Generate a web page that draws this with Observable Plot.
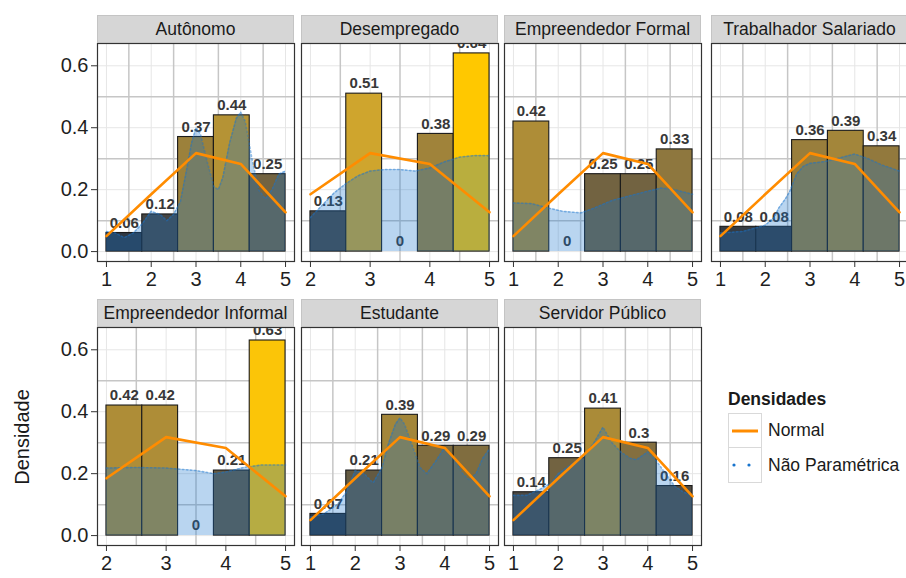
<!DOCTYPE html>
<html>
<head>
<meta charset="utf-8">
<script src="https://cdn.jsdelivr.net/npm/d3@7"></script>
<script src="https://cdn.jsdelivr.net/npm/@observablehq/plot@0.6"></script>
<style>
  body { margin: 0; background: #fff; font-family: "Liberation Sans", Arial, sans-serif; }
  #chart { position: relative; width: 906px; height: 578px; overflow: hidden; background: #fff; }
  .strip { position: absolute; height: 28px; background: #d6d6d6; border: 1px solid #c4c4c4; box-sizing: border-box;
           text-align: center; font-size: 17.5px; line-height: 26px; color: #1a1a1a; white-space: nowrap; overflow: hidden; z-index: 2; }
  .panel { position: absolute; z-index: 1; }
  .ytitle { position: absolute; left: 22px; top: 437px; transform: translate(-50%, -50%) rotate(-90deg);
            font-size: 20px; color: #1a1a1a; white-space: nowrap; }
  .legend { position: absolute; left: 728px; top: 386px; color: #1a1a1a; }
  .legend .ttl { font-weight: bold; font-size: 17.5px; height: 27px; line-height: 26px; }
  .legend .row { display: flex; align-items: center; height: 35px; }
  .legend .key { width: 34px; height: 35px; box-sizing: border-box; border: 1px solid #d9d9d9; background: #fff; }
  .legend .row + .row .key { border-top: none; }
  .legend .lab { font-size: 17.5px; margin-left: 6px; white-space: nowrap; }
</style>
</head>
<body>
<div id="chart"></div>
<script>
// Facet groups and the range of answers observed in each one
const grupos = ["Autônomo", "Desempregado", "Empreendedor Formal", "Trabalhador Salariado",
                "Empreendedor Informal", "Estudante", "Servidor Público"];
const faixaMin = [1, 2, 1, 1, 2, 1, 1];
const faixaMax = [5, 5, 5, 5, 5, 5, 5];

// Histogram densities (5 bins per group)
const densAutonomo     = [0.06, 0.12, 0.37, 0.44, 0.25];
const densDesempregado = [0.13, 0.51, 0, 0.38, 0.64];
const densEmpFormal    = [0.42, 0, 0.25, 0.25, 0.33];
const densTrabalhador  = [0.08, 0.08, 0.36, 0.39, 0.34];
const densEmpInformal  = [0.42, 0.42, 0, 0.21, 0.63];
const densEstudante    = [0.07, 0.21, 0.39, 0.29, 0.29];
const densServidor     = [0.14, 0.25, 0.41, 0.3, 0.16];

// Normal density evaluated at the answer values
const normalX = [1, 2, 3, 4, 5];
const normalY = [0.05, 0.185, 0.318, 0.283, 0.127];

// Kernel (non-parametric) density estimates
const kdeAutonomoX = [1.0,1.2,1.4,1.6,1.8,2.0,2.2,2.35,2.5,2.65,2.8,2.9,3.0,3.1,3.25,3.4,3.5,3.6,3.75,3.9,4.0,4.1,4.25,4.4,4.55,4.7,4.85,5.0];
const kdeAutonomoY = [0.065,0.06,0.045,0.06,0.09,0.13,0.12,0.10,0.12,0.16,0.27,0.35,0.40,0.38,0.29,0.21,0.20,0.24,0.35,0.43,0.45,0.42,0.30,0.20,0.17,0.20,0.25,0.26];
const kdeDesempregadoX = [2.0,2.2,2.4,2.6,2.8,3.0,3.25,3.5,3.75,4.0,4.25,4.5,4.75,5.0];
const kdeDesempregadoY = [0.11,0.15,0.19,0.22,0.245,0.26,0.265,0.265,0.26,0.27,0.29,0.305,0.31,0.31];
const kdeEmpFormalX = [1.0,1.4,1.8,2.1,2.5,2.8,3.2,3.6,4.0,4.3,4.6,5.0];
const kdeEmpFormalY = [0.157,0.155,0.14,0.13,0.125,0.14,0.165,0.18,0.195,0.205,0.2,0.185];
const kdeTrabalhadorX = [1.0,1.5,2.0,2.2,2.3,2.45,2.55,2.7,2.85,3.0,3.3,3.6,4.0,4.3,4.6,5.0];
const kdeTrabalhadorY = [0.06,0.065,0.085,0.11,0.14,0.17,0.195,0.25,0.275,0.285,0.29,0.30,0.315,0.30,0.28,0.26];
const kdeEmpInformalX = [2.0,2.5,3.0,3.5,3.8,4.0,4.3,4.6,5.0];
const kdeEmpInformalY = [0.218,0.22,0.218,0.21,0.2,0.205,0.22,0.228,0.228];
const kdeEstudanteX = [1.0,1.3,1.6,1.8,2.0,2.2,2.4,2.6,2.75,2.9,3.0,3.1,3.25,3.45,3.6,3.8,4.0,4.2,4.4,4.55,4.7,4.85,5.0];
const kdeEstudanteY = [0.06,0.07,0.10,0.14,0.21,0.20,0.17,0.22,0.30,0.36,0.38,0.36,0.30,0.22,0.20,0.24,0.285,0.25,0.20,0.18,0.20,0.25,0.28];
const kdeServidorX = [1.0,1.3,1.6,1.85,2.0,2.3,2.6,2.8,3.0,3.2,3.4,3.6,3.75,4.0,4.2,4.4,4.6,4.8,5.0];
const kdeServidorY = [0.13,0.13,0.15,0.17,0.2,0.23,0.26,0.3,0.35,0.3,0.27,0.25,0.245,0.27,0.24,0.2,0.16,0.14,0.13];

// Axis breaks
const yMajor = [0, 0.2, 0.4, 0.6];
const yMinor = [0.1, 0.3, 0.5];

const dens = [densAutonomo, densDesempregado, densEmpFormal, densTrabalhador, densEmpInformal, densEstudante, densServidor];
const kdeX = [kdeAutonomoX, kdeDesempregadoX, kdeEmpFormalX, kdeTrabalhadorX, kdeEmpInformalX, kdeEstudanteX, kdeServidorX];
const kdeY = [kdeAutonomoY, kdeDesempregadoY, kdeEmpFormalY, kdeTrabalhadorY, kdeEmpInformalY, kdeEstudanteY, kdeServidorY];

const maxDens = d3.max(dens.flat());
const font = '"Liberation Sans", Arial, sans-serif';

// Facet grid geometry
const colLeft = [97, 301, 504, 711];
const rowTop = [42.5, 327];
const PW = 197, PH = 218;
const ML = 56, MR = 12, MT = 4, MB = 40;

const chart = document.getElementById("chart");

function panel(i) {
  const lo = faixaMin[i], hi = faixaMax[i], w = (hi - lo) / 5, pad = (hi - lo) * 0.05;
  const bins = dens[i].map((d, k) => ({x1: lo + k * w, x2: lo + (k + 1) * w, d}));
  const kde = kdeX[i].map((x, k) => ({x, y: kdeY[i][k]}));
  const norm = normalX.map((x, k) => ({x, y: normalY[k]})).filter(d => d.x >= lo && d.x <= hi);
  const xMajor = d3.range(lo, hi + 1);
  const xMinor = d3.range(lo + 0.5, hi, 1);
  const col = i < 4 ? i : i - 4;

  return Plot.plot({
    width: PW + ML + MR, height: PH + MT + MB,
    marginLeft: ML, marginRight: MR, marginTop: MT, marginBottom: MB,
    style: {background: "transparent", overflow: "visible", fontFamily: font, maxWidth: "none"},
    x: {domain: [lo - pad, hi + pad], axis: null},
    y: {domain: [-0.032, 0.672], axis: null},
    color: {type: "linear", domain: [0, maxDens], range: ["#132B43", "#FFC800"], interpolate: d3.interpolateLab},
    marks: [
      Plot.ruleY(yMajor, {stroke: "#e6e6e6", strokeWidth: 1}),
      Plot.ruleX(xMajor, {stroke: "#e6e6e6", strokeWidth: 1}),
      Plot.ruleY(yMinor, {stroke: "#c6c6c6", strokeWidth: 1.5}),
      Plot.ruleX(xMinor, {stroke: "#c6c6c6", strokeWidth: 1.5}),
      Plot.rect(bins, {x1: "x1", x2: "x2", y1: 0, y2: "d", fill: "d", stroke: "#1a1a1a", strokeWidth: 1.1}),
      Plot.text(bins, {x: d => (d.x1 + d.x2) / 2, y: "d", text: d => String(d.d), dy: -10,
                       fontWeight: "bold", fontSize: 15, fill: "#383838"}),
      Plot.areaY(kde, {x: "x", y: "y", fill: "#1874CD", fillOpacity: 0.3}),
      Plot.lineY(kde, {x: "x", y: "y", stroke: "#1874CD", strokeOpacity: 0.45, strokeWidth: 1.6, strokeDasharray: "1.5 2.5"}),
      Plot.lineY(norm, {x: "x", y: "y", stroke: "#FF8C00", strokeWidth: 2.6}),
      Plot.frame({stroke: "#333", strokeWidth: 1.2}),
      Plot.axisX({ticks: xMajor, tickFormat: d3.format("d"), tickSize: 6, tickPadding: 4,
                  fontSize: 20, stroke: "#333", fill: "#1f1f1f", label: null}),
      col === 0 ? Plot.axisY({ticks: yMajor, tickFormat: d3.format(".1f"), tickSize: 6, tickPadding: 3,
                  fontSize: 20, stroke: "#333", fill: "#1f1f1f", label: null}) : null
    ]
  });
}

grupos.forEach((g, i) => {
  const row = i < 4 ? 0 : 1, col = i < 4 ? i : i - 4;
  const left = colLeft[col], top = rowTop[row];

  const wrap = document.createElement("div");
  wrap.className = "panel";
  wrap.style.left = (left - ML) + "px";
  wrap.style.top = (top - MT) + "px";
  wrap.appendChild(panel(i));
  chart.appendChild(wrap);

  // Facet strip sits over the panel, hiding any label that rises past the top edge
  const strip = document.createElement("div");
  strip.className = "strip";
  strip.style.left = left + "px";
  strip.style.top = (top - 28) + "px";
  strip.style.width = PW + "px";
  strip.textContent = g;
  chart.appendChild(strip);
});

// Axis title
const yt = document.createElement("div");
yt.className = "ytitle";
yt.textContent = "Densidade";
chart.appendChild(yt);

// Legend
const leg = document.createElement("div");
leg.className = "legend";
leg.innerHTML = `
  <div class="ttl">Densidades</div>
  <div class="row"><div class="key"><svg width="32" height="33"><line x1="3" x2="29" y1="17" y2="17" stroke="#FF8C00" stroke-width="3"/></svg></div><div class="lab">Normal</div></div>
  <div class="row"><div class="key"><svg width="32" height="33"><circle cx="5" cy="17" r="1.6" fill="#1874CD"/><circle cx="20" cy="17" r="1.6" fill="#1874CD"/></svg></div><div class="lab">Não Paramétrica</div></div>`;
chart.appendChild(leg);
</script>
</body>
</html>
